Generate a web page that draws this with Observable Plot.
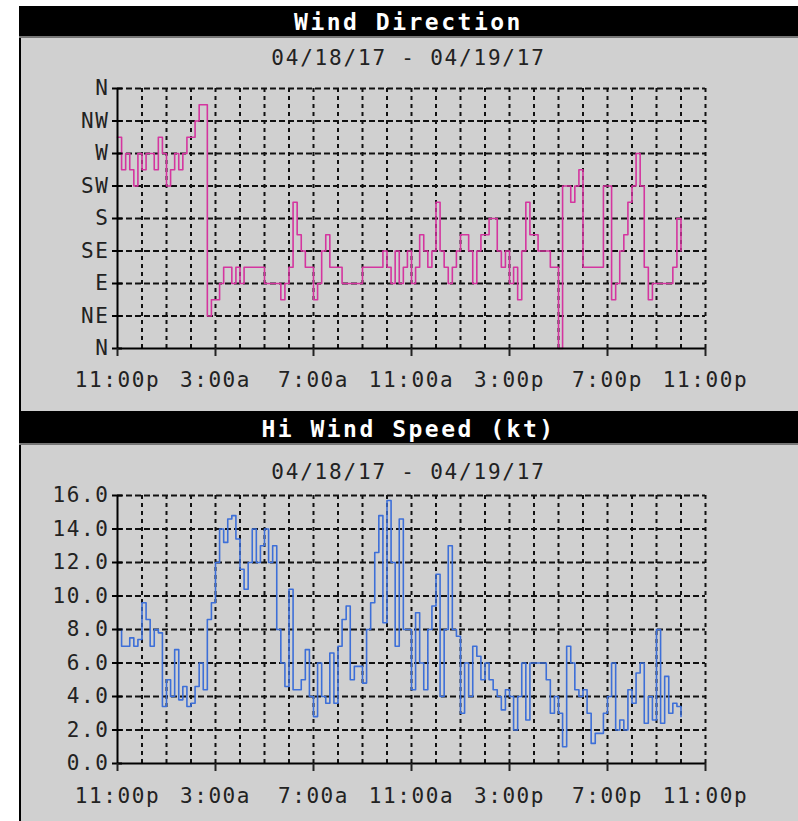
<!DOCTYPE html>
<html>
<head>
<meta charset="utf-8">
<script src="https://cdn.jsdelivr.net/npm/d3@7"></script>
<script src="https://cdn.jsdelivr.net/npm/@observablehq/plot@0.6"></script>
<style>
  html, body { margin: 0; padding: 0; background: #ffffff; }
  #page { position: relative; width: 798px; height: 821px; overflow: hidden; background: #ffffff; }
  .panel { position: absolute; left: 19px; width: 777px; background: #d0d0d0; border-left: 2px solid #000; }
  .header { position: absolute; left: 19px; width: 779px; background: #000; color: #fff;
            font-family: "DejaVu Sans Mono", monospace; font-weight: bold; font-size: 23px;
            letter-spacing: 2.5px; text-align: center; box-sizing: border-box; border-bottom: 2px solid #777; }
  .sub { position: absolute; left: 19px; width: 779px; text-align: center; color: #222;
         font-family: "DejaVu Sans Mono", monospace; font-size: 21px; letter-spacing: 1.8px; }
  .chart { position: absolute; left: 0; }
</style>
</head>
<body>
<div id="page">
  <div class="panel" style="top:37px;height:374px;"></div>
  <div class="panel" style="top:444px;height:377px;"></div>
  <div class="header" style="top:6px;height:32px;line-height:33px;" id="t1"></div>
  <div class="header" style="top:411px;height:34px;line-height:36px;" id="t2"></div>
  <div class="sub" style="top:46px;" id="s1"></div>
  <div class="sub" style="top:460px;" id="s2"></div>
  <div class="chart" style="top:76px;" id="c1"></div>
  <div class="chart" style="top:483px;" id="c2"></div>
</div>
<script>
// ---- text ----
const titleDir = "Wind Direction";
const titleSpeed = "Hi Wind Speed (kt)";
const dateRange = "04/18/17 - 04/19/17";

// ---- axes ----
const xTicks = [0, 4, 8, 12, 16, 20, 24];            // hours after 11:00p
const xTickLabels = ["11:00p", "3:00a", "7:00a", "11:00a", "3:00p", "7:00p", "11:00p"];
const gridHours = [1,2,3,4,5,6,7,8,9,10,11,12,13,14,15,16,17,18,19,20,21,22,23,24];
const dirTicks = [0, 45, 90, 135, 180, 225, 270, 315, 360];
const dirTickLabels = ["N", "NE", "E", "SE", "S", "SW", "W", "NW", "N"];
const speedTicks = [0, 2, 4, 6, 8, 10, 12, 14, 16];
const samplesPerHour = 6; // 10-minute readings

// ---- series (degrees, 10-minute readings from 11:00p) ----
const dirValues = [
  292.5, 247.5, 270, 247.5, 225, 270,
  247.5, 270, 270, 247.5, 292.5, 270,
  225, 247.5, 270, 247.5, 270, 292.5,
  292.5, 315, 337.5, 337.5, 45, 67.5,
  67.5, 90, 112.5, 112.5, 90, 112.5,
  90, 112.5, 112.5, 112.5, 112.5, 112.5,
  90, 90, 90, 90, 67.5, 90,
  112.5, 202.5, 157.5, 135, 112.5, 112.5,
  67.5, 90, 135, 157.5, 112.5, 112.5,
  112.5, 90, 90, 90, 90, 90,
  112.5, 112.5, 112.5, 112.5, 112.5, 135,
  112.5, 90, 135, 90, 112.5, 135,
  90, 112.5, 157.5, 135, 112.5, 135,
  202.5, 135, 112.5, 90, 112.5, 135,
  157.5, 157.5, 135, 90, 135, 157.5,
  157.5, 180, 180, 135, 112.5, 135,
  90, 112.5, 67.5, 135, 202.5, 157.5,
  157.5, 135, 135, 135, 112.5, 112.5,
  0, 225, 225, 202.5, 225, 247.5,
  112.5, 112.5, 112.5, 112.5, 112.5, 225,
  225, 67.5, 90, 135, 157.5, 202.5,
  225, 270, 225, 112.5, 67.5, 90,
  90, 90, 90, 90, 112.5, 180,
  135
];

// ---- series (knots, 10-minute readings from 11:00p) ----
const speedValues = [
  8.0, 7.0, 7.0, 7.5, 7.0, 7.4,
  9.6, 8.6, 7.0, 8.0, 7.8, 3.4,
  5.0, 4.0, 6.8, 3.8, 4.6, 3.4,
  3.6, 4.6, 6.0, 4.4, 8.6, 9.6,
  12.0, 14.0, 13.2, 14.6, 14.8, 13.4,
  11.6, 10.4, 12.0, 14.0, 12.0, 13.0,
  14.0, 12.0, 13.0, 8.0, 6.0, 4.6,
  10.4, 4.4, 4.4, 5.0, 6.8, 4.0,
  2.8, 6.0, 4.0, 3.6, 6.6, 3.6,
  7.0, 8.6, 9.4, 5.0, 5.8, 5.8,
  4.8, 8.0, 9.6, 12.6, 14.8, 8.4,
  15.7, 12.0, 7.0, 14.6, 8.0, 8.0,
  4.4, 9.0, 6.0, 4.4, 8.0, 9.4,
  11.3, 4.0, 8.0, 13.0, 8.0, 7.6,
  3.0, 6.0, 4.0, 7.0, 6.4, 5.0,
  6.0, 5.0, 4.4, 4.0, 3.2, 4.4,
  4.0, 2.0, 4.0, 6.0, 2.6, 6.0,
  6.0, 6.0, 6.0, 5.0, 3.0, 4.0,
  3.0, 1.0, 7.0, 6.0, 4.4, 4.0,
  4.4, 3.0, 1.2, 1.8, 1.8, 3.0,
  4.0, 6.0, 2.0, 2.6, 2.0, 4.4,
  3.6, 5.4, 6.0, 2.4, 4.0, 2.6,
  8.0, 2.4, 5.2, 3.0, 3.6, 3.4,
  2.8
];

const dirData = dirValues.map((v, i) => ({hour: i / samplesPerHour, value: v}));
const speedData = speedValues.map((v, i) => ({hour: i / samplesPerHour, value: v}));

document.getElementById("t1").textContent = titleDir;
document.getElementById("t2").textContent = titleSpeed;
document.getElementById("s1").textContent = dateRange;
document.getElementById("s2").textContent = dateRange;

const fontStyle = {fontFamily: "DejaVu Sans Mono, monospace", fontSize: "21px", letterSpacing: "1.6px",
                   color: "#222", background: "transparent", overflow: "visible"};

function makeChart({data, yDomain, yTicks, yFormat, color, height, marginBottom, tickPadX}) {
  return Plot.plot({
    width: 798,
    height,
    marginLeft: 117,
    marginRight: 93,
    marginTop: 12,
    marginBottom,
    style: fontStyle,
    x: {domain: [0, 24], axis: null},
    y: {domain: yDomain, axis: null},
    marks: [
      Plot.ruleX(gridHours, {stroke: "#111", strokeWidth: 2, strokeDasharray: "4,4"}),
      Plot.ruleY(yTicks.slice(1), {stroke: "#111", strokeWidth: 2, strokeDasharray: "6,3"}),
      Plot.line(data, {x: "hour", y: "value", curve: "step-after", stroke: color, strokeWidth: 1.6}),
      Plot.ruleX([0], {stroke: "#000", strokeWidth: 2}),
      Plot.ruleY([yDomain[0]], {stroke: "#000", strokeWidth: 2}),
      Plot.ruleY(yTicks, {x1: 0, x2: 0, insetLeft: -5, insetRight: -5, stroke: "#000", strokeWidth: 2}),
      Plot.axisX({ticks: xTicks, tickFormat: (d) => xTickLabels[xTicks.indexOf(d)], tickSize: 8, label: null,
                  tickPadding: tickPadX, strokeWidth: 2, fill: "#222", fontSize: 21}),
      Plot.axisY({ticks: yTicks, tickFormat: yFormat, tickSize: 0, tickPadding: 8, label: null,
                  fill: "#222", fontSize: 21})
    ]
  });
}

document.getElementById("c1").append(makeChart({
  data: dirData, yDomain: [0, 360], yTicks: dirTicks,
  yFormat: (d) => dirTickLabels[dirTicks.indexOf(d)],
  color: "#d4359f", height: 330, marginBottom: 58, tickPadX: 16
}));

document.getElementById("c2").append(makeChart({
  data: speedData, yDomain: [0, 16], yTicks: speedTicks,
  yFormat: (d) => d.toFixed(1),
  color: "#3d6fd8", height: 335, marginBottom: 55, tickPadX: 17
}));
</script>
</body>
</html>
